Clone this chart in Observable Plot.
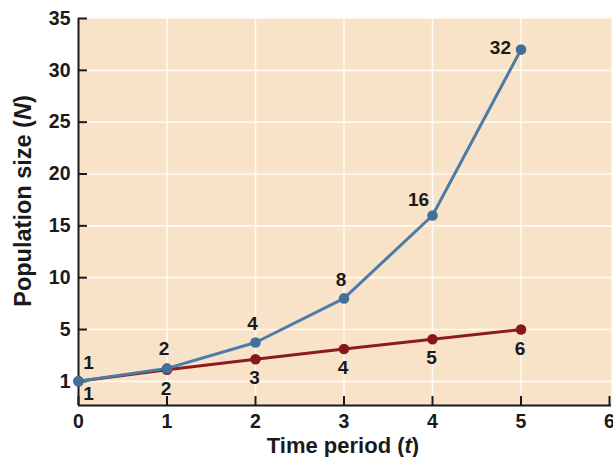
<!DOCTYPE html>
<html>
<head>
<meta charset="utf-8">
<script src="https://cdn.jsdelivr.net/npm/d3@7"></script>
<script src="https://cdn.jsdelivr.net/npm/@observablehq/plot@0.6"></script>
<style>
  html, body { margin: 0; padding: 0; background: #ffffff; }
  #chart svg { display: block; }
</style>
</head>
<body>
<div id="chart"></div>
<script>
// ---- data ----
const timePeriods = [0, 1, 2, 3, 4, 5];
const exponentialN = [1, 2, 4, 8, 16, 32];            // blue series
const exponentialLabels = ["1", "2", "4", "8", "16", "32"];
const linearDrawn = [1, 1.9, 2.7, 3.5, 4.25, 5];      // red series, as drawn
const linearLabels = ["1", "2", "3", "4", "5", "6"];
const yTicks = [1, 5, 10, 15, 20, 25, 30, 35];
const xTicks = [0, 1, 2, 3, 4, 5, 6];

// The figure's y axis is drawn with the "1" tick one full grid step below 5:
// map population values to drawn axis units (piecewise linear).
const toAxis = d3.scaleLinear().domain([1, 5, 35]).range([0, 5, 35]);
const axisBottom = -2.33;

const blue = timePeriods.map((t, i) => ({t, n: exponentialN[i], label: exponentialLabels[i], i}));
const red = timePeriods.map((t, i) => ({t, n: linearDrawn[i], label: linearLabels[i], i}));
const yv = d => toAxis(d.n);

const W = 613, H = 457;
const font = "'Liberation Sans', Arial, Helvetica, sans-serif";
const blueLine = "#4c7ca6", blueDot = "#41709b";
const redLine = "#8c1a1e", redDot = "#88161b";
const ink = "#1a1a1a";
const labelStyle = {fontSize: 19, fontWeight: "bold", fill: ink};

const chart = Plot.plot({
  width: W,
  height: H,
  marginLeft: 78,
  marginRight: 2,
  marginTop: 18,
  marginBottom: 52,
  style: {fontFamily: font, background: "#ffffff", overflow: "visible"},
  x: {domain: [0, 6], range: [78, 609], axis: null},
  y: {domain: [axisBottom, 35], axis: null},
  marks: [
    Plot.frame({fill: "#f9e3c8", stroke: null}),
    Plot.gridY(yTicks.filter(d => d < 35).map(toAxis), {stroke: "#ffffff", strokeOpacity: 0.8, strokeWidth: 1.6}),
    Plot.gridX(xTicks.filter(d => d > 0 && d < 6), {stroke: "#ffffff", strokeOpacity: 0.8, strokeWidth: 1.6}),
    // axis lines
    Plot.ruleX([0], {y1: axisBottom, y2: 35, stroke: ink, strokeWidth: 2}),
    Plot.ruleY([axisBottom], {stroke: ink, strokeWidth: 2}),
    // inward ticks
    Plot.axisY({ticks: yTicks.map(toAxis), tickSize: -9, text: null, label: null, stroke: ink, strokeWidth: 2}),
    Plot.axisX({ticks: xTicks, tickSize: -9, text: null, label: null, stroke: ink, strokeWidth: 2}),
    // tick labels
    Plot.axisY({ticks: yTicks.map(toAxis), tickSize: 0, tickPadding: 8, label: null,
      tickFormat: v => String(Math.round(toAxis.invert(v))),
      fontSize: 19.5, fontWeight: "bold", fill: ink}),
    Plot.axisX({ticks: xTicks, tickSize: 0, tickPadding: 9, label: null, tickFormat: d => String(d),
      fontSize: 19.5, fontWeight: "bold", fill: ink}),
    // series
    Plot.line(red, {x: "t", y: yv, stroke: redLine, strokeWidth: 3}),
    Plot.line(blue, {x: "t", y: yv, stroke: blueLine, strokeWidth: 3}),
    Plot.dot(red, {x: "t", y: yv, r: 5.3, fill: redDot}),
    Plot.dot(blue, {x: "t", y: yv, r: 5.3, fill: blueDot}),
    // point labels, blue (above)
    Plot.text(blue.filter(d => d.i === 0), {x: "t", y: yv, text: "label", dx: 10, dy: -18, ...labelStyle}),
    Plot.text(blue.filter(d => d.i >= 1 && d.i <= 3), {x: "t", y: yv, text: "label", dx: -3, dy: -19, ...labelStyle}),
    Plot.text(blue.filter(d => d.i === 4), {x: "t", y: yv, text: "label", dx: -14, dy: -16, ...labelStyle}),
    Plot.text(blue.filter(d => d.i === 5), {x: "t", y: yv, text: "label", dx: -10, dy: -2, textAnchor: "end", ...labelStyle}),
    // point labels, red (below)
    Plot.text(red.filter(d => d.i === 0), {x: "t", y: yv, text: "label", dx: 10, dy: 13, ...labelStyle}),
    Plot.text(red.filter(d => d.i >= 1), {x: "t", y: yv, text: "label", dx: -1, dy: 19, ...labelStyle})
  ]
});

document.getElementById("chart").appendChild(chart);

// axis titles with italic variable names
const svg = d3.select(chart);
const xt = svg.append("text")
  .attr("x", 343).attr("y", 453)
  .attr("text-anchor", "middle")
  .attr("font-family", font).attr("font-size", 22).attr("font-weight", "bold").attr("fill", ink);
xt.append("tspan").text("Time period (");
xt.append("tspan").attr("font-style", "italic").text("t");
xt.append("tspan").text(")");

const yt = svg.append("text")
  .attr("transform", "translate(31,201) rotate(-90)")
  .attr("text-anchor", "middle")
  .attr("font-family", font).attr("font-size", 23.5).attr("font-weight", "bold").attr("fill", ink);
yt.append("tspan").text("Population size (");
yt.append("tspan").attr("font-style", "italic").text("N");
yt.append("tspan").text(")");
</script>
</body>
</html>
